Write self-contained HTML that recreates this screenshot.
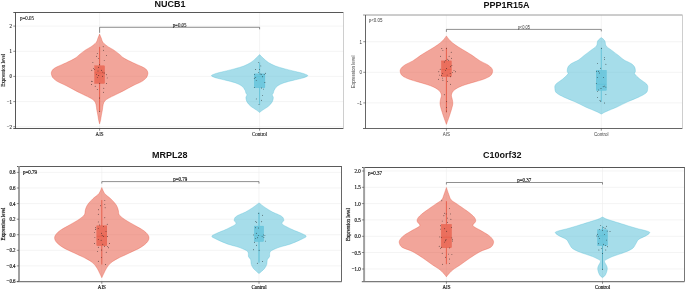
<!DOCTYPE html>
<html><head><meta charset="utf-8"><title>Violin plots</title>
<style>html,body{margin:0;padding:0;background:#fff;}svg{display:block;}</style>
</head><body>
<svg width="685" height="290" viewBox="0 0 685 290">
<rect width="685" height="290" fill="#fff"/>
<defs><filter id="idf" x="0" y="0" width="685" height="290" filterUnits="userSpaceOnUse" color-interpolation-filters="sRGB"><feOffset dx="0" dy="0"/></filter></defs>
<g filter="url(#idf)">
<line x1="15.50" y1="26.10" x2="343.50" y2="26.10" stroke="#ececec" stroke-width="0.6"/>
<line x1="15.50" y1="51.30" x2="343.50" y2="51.30" stroke="#ececec" stroke-width="0.6"/>
<line x1="15.50" y1="76.40" x2="343.50" y2="76.40" stroke="#ececec" stroke-width="0.6"/>
<line x1="15.50" y1="101.60" x2="343.50" y2="101.60" stroke="#ececec" stroke-width="0.6"/>
<line x1="15.50" y1="126.70" x2="343.50" y2="126.70" stroke="#ececec" stroke-width="0.6"/>
<line x1="99.60" y1="12.50" x2="99.60" y2="128.50" stroke="#ececec" stroke-width="0.6"/>
<line x1="259.60" y1="12.50" x2="259.60" y2="128.50" stroke="#ececec" stroke-width="0.6"/>
<path d="M99.60,34.10 C99.33,34.75 98.58,36.60 98.00,38.00 C97.42,39.40 97.30,41.02 96.10,42.50 C94.90,43.98 92.55,45.67 90.80,46.90 C89.05,48.13 87.35,48.73 85.60,49.90 C83.85,51.07 82.07,52.50 80.30,53.90 C78.53,55.30 77.33,56.83 75.00,58.30 C72.67,59.77 69.28,61.28 66.30,62.70 C63.32,64.12 59.25,65.75 57.10,66.80 C54.95,67.85 54.27,68.30 53.40,69.00 C52.53,69.70 52.25,70.33 51.90,71.00 C51.55,71.67 51.35,72.33 51.30,73.00 C51.25,73.67 51.42,74.33 51.60,75.00 C51.78,75.67 52.05,76.40 52.40,77.00 C52.75,77.60 52.83,77.83 53.70,78.60 C54.57,79.37 55.50,80.42 57.60,81.60 C59.70,82.78 63.40,84.23 66.30,85.70 C69.20,87.17 72.08,88.88 75.00,90.40 C77.92,91.92 81.17,93.48 83.80,94.80 C86.43,96.12 89.05,97.28 90.80,98.30 C92.55,99.32 93.43,99.88 94.30,100.90 C95.17,101.92 95.57,102.80 96.00,104.40 C96.43,106.00 96.60,108.73 96.90,110.50 C97.20,112.27 97.53,113.50 97.80,115.00 C98.07,116.50 98.20,118.02 98.50,119.50 C98.80,120.98 99.42,123.17 99.60,123.90 C99.78,123.17 100.40,120.98 100.70,119.50 C101.00,118.02 101.13,116.50 101.40,115.00 C101.67,113.50 102.00,112.27 102.30,110.50 C102.60,108.73 102.77,106.00 103.20,104.40 C103.63,102.80 104.03,101.92 104.90,100.90 C105.77,99.88 106.65,99.32 108.40,98.30 C110.15,97.28 112.77,96.12 115.40,94.80 C118.03,93.48 121.28,91.92 124.20,90.40 C127.12,88.88 130.00,87.17 132.90,85.70 C135.80,84.23 139.50,82.78 141.60,81.60 C143.70,80.42 144.63,79.37 145.50,78.60 C146.37,77.83 146.45,77.60 146.80,77.00 C147.15,76.40 147.42,75.67 147.60,75.00 C147.78,74.33 147.95,73.67 147.90,73.00 C147.85,72.33 147.65,71.67 147.30,71.00 C146.95,70.33 146.67,69.70 145.80,69.00 C144.93,68.30 144.25,67.85 142.10,66.80 C139.95,65.75 135.88,64.12 132.90,62.70 C129.92,61.28 126.53,59.77 124.20,58.30 C121.87,56.83 120.67,55.30 118.90,53.90 C117.13,52.50 115.35,51.07 113.60,49.90 C111.85,48.73 110.15,48.13 108.40,46.90 C106.65,45.67 104.30,43.98 103.10,42.50 C101.90,41.02 101.78,39.40 101.20,38.00 C100.62,36.60 99.87,34.75 99.60,34.10Z" fill="#E64B35" fill-opacity="0.5" stroke="#E64B35" stroke-width="0.55" stroke-opacity="0.6"/>
<path d="M259.60,54.60 C259.02,55.18 257.57,56.78 256.10,58.10 C254.63,59.42 252.85,61.18 250.80,62.50 C248.75,63.82 246.43,64.97 243.80,66.00 C241.17,67.03 237.92,67.88 235.00,68.70 C232.08,69.52 229.20,70.18 226.30,70.90 C223.40,71.62 219.77,72.40 217.60,73.00 C215.43,73.60 214.33,74.05 213.30,74.50 C212.27,74.95 211.40,75.30 211.40,75.70 C211.40,76.10 212.27,76.47 213.30,76.90 C214.33,77.33 215.43,77.72 217.60,78.30 C219.77,78.88 223.40,79.67 226.30,80.40 C229.20,81.13 232.38,81.73 235.00,82.70 C237.62,83.67 240.30,84.88 242.00,86.20 C243.70,87.52 244.55,89.45 245.20,90.60 C245.85,91.75 245.60,92.38 245.90,93.10 C246.20,93.82 247.00,94.17 247.00,94.90 C247.00,95.63 245.90,96.33 245.90,97.50 C245.90,98.67 246.18,100.43 247.00,101.90 C247.82,103.37 249.28,104.98 250.80,106.30 C252.32,107.62 254.63,108.78 256.10,109.80 C257.57,110.82 259.02,111.97 259.60,112.40 C260.18,111.97 261.63,110.82 263.10,109.80 C264.57,108.78 266.88,107.62 268.40,106.30 C269.92,104.98 271.38,103.37 272.20,101.90 C273.02,100.43 273.30,98.67 273.30,97.50 C273.30,96.33 272.20,95.63 272.20,94.90 C272.20,94.17 273.00,93.82 273.30,93.10 C273.60,92.38 273.35,91.75 274.00,90.60 C274.65,89.45 275.50,87.52 277.20,86.20 C278.90,84.88 281.58,83.67 284.20,82.70 C286.82,81.73 290.00,81.13 292.90,80.40 C295.80,79.67 299.43,78.88 301.60,78.30 C303.77,77.72 304.87,77.33 305.90,76.90 C306.93,76.47 307.80,76.10 307.80,75.70 C307.80,75.30 306.93,74.95 305.90,74.50 C304.87,74.05 303.77,73.60 301.60,73.00 C299.43,72.40 295.80,71.62 292.90,70.90 C290.00,70.18 287.12,69.52 284.20,68.70 C281.28,67.88 278.03,67.03 275.40,66.00 C272.77,64.97 270.45,63.82 268.40,62.50 C266.35,61.18 264.57,59.42 263.10,58.10 C261.63,56.78 260.18,55.18 259.60,54.60Z" fill="#4DBBD5" fill-opacity="0.5" stroke="#4DBBD5" stroke-width="0.55" stroke-opacity="0.6"/>
<line x1="99.60" y1="46.90" x2="99.60" y2="65.80" stroke="#E64B35" stroke-width="0.8" stroke-opacity="0.95"/><line x1="99.60" y1="83.40" x2="99.60" y2="111.40" stroke="#E64B35" stroke-width="0.8" stroke-opacity="0.95"/><rect x="94.70" y="65.80" width="9.80" height="17.60" fill="#E64B35" fill-opacity="0.6" stroke="#E64B35" stroke-width="0.4" stroke-opacity="0.7"/><line x1="94.70" y1="72.90" x2="104.50" y2="72.90" stroke="#E64B35" stroke-width="0.5" stroke-opacity="0.7"/>
<line x1="259.60" y1="62.50" x2="259.60" y2="73.90" stroke="#4DBBD5" stroke-width="0.7" stroke-opacity="0.95"/><line x1="259.60" y1="87.70" x2="259.60" y2="104.50" stroke="#4DBBD5" stroke-width="0.7" stroke-opacity="0.95"/><rect x="254.30" y="73.90" width="10.60" height="13.80" fill="#4DBBD5" fill-opacity="0.6" stroke="#4DBBD5" stroke-width="0.4" stroke-opacity="0.7"/><line x1="254.30" y1="76.50" x2="264.90" y2="76.50" stroke="#4DBBD5" stroke-width="0.5" stroke-opacity="0.7"/>
<circle cx="103.2" cy="46.8" r="0.43" fill="#151515"/>
<circle cx="103.5" cy="50.3" r="0.43" fill="#151515"/>
<circle cx="106.5" cy="55.4" r="0.43" fill="#151515"/>
<circle cx="97.3" cy="53.4" r="0.43" fill="#151515"/>
<circle cx="96.6" cy="56.2" r="0.43" fill="#151515"/>
<circle cx="98.7" cy="58.6" r="0.43" fill="#151515"/>
<circle cx="104.2" cy="60.6" r="0.43" fill="#151515"/>
<circle cx="92.9" cy="62.4" r="0.43" fill="#151515"/>
<circle cx="99.4" cy="64.8" r="0.43" fill="#151515"/>
<circle cx="93.4" cy="68.6" r="0.43" fill="#151515"/>
<circle cx="91.8" cy="70.3" r="0.43" fill="#151515"/>
<circle cx="94.5" cy="69.6" r="0.43" fill="#151515"/>
<circle cx="98.7" cy="67.5" r="0.43" fill="#151515"/>
<circle cx="98.0" cy="71.0" r="0.43" fill="#151515"/>
<circle cx="101.4" cy="70.3" r="0.43" fill="#151515"/>
<circle cx="102.8" cy="72.1" r="0.43" fill="#151515"/>
<circle cx="104.2" cy="73.0" r="0.43" fill="#151515"/>
<circle cx="106.3" cy="74.8" r="0.43" fill="#151515"/>
<circle cx="96.6" cy="74.4" r="0.43" fill="#151515"/>
<circle cx="98.7" cy="75.5" r="0.43" fill="#151515"/>
<circle cx="102.5" cy="76.2" r="0.43" fill="#151515"/>
<circle cx="97.3" cy="77.6" r="0.43" fill="#151515"/>
<circle cx="107.2" cy="77.9" r="0.43" fill="#151515"/>
<circle cx="91.8" cy="81.3" r="0.43" fill="#151515"/>
<circle cx="92.1" cy="81.4" r="0.43" fill="#151515"/>
<circle cx="91.4" cy="84.5" r="0.43" fill="#151515"/>
<circle cx="106.6" cy="83.5" r="0.43" fill="#151515"/>
<circle cx="99.7" cy="83.2" r="0.43" fill="#151515"/>
<circle cx="95.2" cy="86.3" r="0.43" fill="#151515"/>
<circle cx="97.3" cy="89.4" r="0.43" fill="#151515"/>
<circle cx="103.8" cy="88.3" r="0.43" fill="#151515"/>
<circle cx="103.5" cy="92.2" r="0.43" fill="#151515"/>
<circle cx="99.4" cy="98.0" r="0.43" fill="#151515"/>
<circle cx="99.7" cy="111.5" r="0.43" fill="#151515"/>
<circle cx="258.7" cy="62.6" r="0.43" fill="#151515"/>
<circle cx="260.8" cy="65.9" r="0.43" fill="#151515"/>
<circle cx="259.4" cy="69.4" r="0.43" fill="#151515"/>
<circle cx="255.7" cy="69.5" r="0.43" fill="#151515"/>
<circle cx="258.7" cy="72.6" r="0.43" fill="#151515"/>
<circle cx="260.1" cy="73.9" r="0.43" fill="#151515"/>
<circle cx="261.2" cy="74.3" r="0.43" fill="#151515"/>
<circle cx="265.6" cy="73.2" r="0.43" fill="#151515"/>
<circle cx="264.2" cy="74.6" r="0.43" fill="#151515"/>
<circle cx="254.6" cy="74.6" r="0.43" fill="#151515"/>
<circle cx="262.6" cy="76.7" r="0.43" fill="#151515"/>
<circle cx="255.7" cy="77.4" r="0.43" fill="#151515"/>
<circle cx="254.3" cy="78.3" r="0.43" fill="#151515"/>
<circle cx="256.2" cy="80.6" r="0.43" fill="#151515"/>
<circle cx="264.9" cy="82.5" r="0.43" fill="#151515"/>
<circle cx="254.3" cy="87.4" r="0.43" fill="#151515"/>
<circle cx="261.4" cy="88.0" r="0.43" fill="#151515"/>
<circle cx="263.4" cy="89.1" r="0.43" fill="#151515"/>
<circle cx="262.6" cy="95.4" r="0.43" fill="#151515"/>
<circle cx="256.3" cy="98.9" r="0.43" fill="#151515"/>
<circle cx="261.4" cy="100.3" r="0.43" fill="#151515"/>
<circle cx="259.0" cy="104.4" r="0.43" fill="#151515"/>
<line x1="13.30" y1="12.50" x2="343.50" y2="12.50" stroke="#444" stroke-width="0.9"/>
<line x1="15.50" y1="12.50" x2="15.50" y2="128.50" stroke="#444" stroke-width="0.9"/>
<line x1="13.30" y1="128.50" x2="343.50" y2="128.50" stroke="#444" stroke-width="0.9"/>
<line x1="343.50" y1="12.50" x2="343.50" y2="128.50" stroke="#c8c8c8" stroke-width="0.9"/>
<line x1="13.30" y1="26.10" x2="15.50" y2="26.10" stroke="#444" stroke-width="0.6"/>
<text transform="translate(12.10,28.15) scale(0.8,1)" text-anchor="end" font-family="Liberation Serif" font-size="6.2" fill="#111" stroke="#111" stroke-width="0.12">2</text>
<line x1="13.30" y1="51.30" x2="15.50" y2="51.30" stroke="#444" stroke-width="0.6"/>
<text transform="translate(12.10,53.35) scale(0.8,1)" text-anchor="end" font-family="Liberation Serif" font-size="6.2" fill="#111" stroke="#111" stroke-width="0.12">1</text>
<line x1="13.30" y1="76.40" x2="15.50" y2="76.40" stroke="#444" stroke-width="0.6"/>
<text transform="translate(12.10,78.45) scale(0.8,1)" text-anchor="end" font-family="Liberation Serif" font-size="6.2" fill="#111" stroke="#111" stroke-width="0.12">0</text>
<line x1="13.30" y1="101.60" x2="15.50" y2="101.60" stroke="#444" stroke-width="0.6"/>
<text transform="translate(12.10,103.65) scale(0.8,1)" text-anchor="end" font-family="Liberation Serif" font-size="6.2" fill="#111" stroke="#111" stroke-width="0.12">−1</text>
<line x1="13.30" y1="126.70" x2="15.50" y2="126.70" stroke="#444" stroke-width="0.6"/>
<text transform="translate(12.10,128.75) scale(0.8,1)" text-anchor="end" font-family="Liberation Serif" font-size="6.2" fill="#111" stroke="#111" stroke-width="0.12">−2</text>
<line x1="99.60" y1="128.50" x2="99.60" y2="130.70" stroke="#444" stroke-width="0.6"/>
<text transform="translate(99.60,136.10) scale(0.8,1)" text-anchor="middle" font-family="Liberation Serif" font-size="6.2" fill="#111" stroke="#111" stroke-width="0.12">AIS</text>
<line x1="259.60" y1="128.50" x2="259.60" y2="130.70" stroke="#444" stroke-width="0.6"/>
<text transform="translate(259.60,136.10) scale(0.8,1)" text-anchor="middle" font-family="Liberation Serif" font-size="6.2" fill="#111" stroke="#111" stroke-width="0.12">Control</text>
<text transform="translate(5.00,70.30) rotate(-90) scale(0.8,1)" text-anchor="middle" font-family="Liberation Serif" font-size="6.2" fill="#111" stroke="#111" stroke-width="0.12">Expression level</text>
<text transform="translate(20.00,20.10) scale(0.8,1)" text-anchor="start" font-family="Liberation Serif" font-size="6.2" fill="#111" stroke="#111" stroke-width="0.12">p=0.05</text>
<text transform="translate(179.60,26.60) scale(0.8,1)" text-anchor="middle" font-family="Liberation Serif" font-size="6.2" fill="#111" stroke="#111" stroke-width="0.12">p=0.05</text>
<path d="M99.60,32.80 V27.30 H259.60 V29.30" fill="none" stroke="#333" stroke-width="0.55"/>
<text x="170.00" y="7.40" text-anchor="middle" font-family="Liberation Sans" font-weight="bold" font-size="9" fill="#111">NUCB1</text>
<line x1="365.50" y1="41.70" x2="682.50" y2="41.70" stroke="#ececec" stroke-width="0.6"/>
<line x1="365.50" y1="72.30" x2="682.50" y2="72.30" stroke="#ececec" stroke-width="0.6"/>
<line x1="365.50" y1="102.90" x2="682.50" y2="102.90" stroke="#ececec" stroke-width="0.6"/>
<line x1="446.40" y1="15.00" x2="446.40" y2="128.50" stroke="#ececec" stroke-width="0.6"/>
<line x1="601.30" y1="15.00" x2="601.30" y2="128.50" stroke="#ececec" stroke-width="0.6"/>
<path d="M446.40,35.90 C445.77,36.72 444.12,39.27 442.60,40.80 C441.08,42.33 439.35,43.65 437.30,45.10 C435.25,46.55 432.93,47.88 430.30,49.50 C427.67,51.12 424.42,52.90 421.50,54.80 C418.58,56.70 415.42,59.30 412.80,60.90 C410.18,62.50 407.70,63.23 405.80,64.40 C403.90,65.57 402.33,66.73 401.40,67.90 C400.47,69.07 400.03,70.08 400.20,71.40 C400.37,72.72 400.87,74.48 402.40,75.80 C403.93,77.12 406.78,78.28 409.40,79.30 C412.02,80.32 415.18,81.03 418.10,81.90 C421.02,82.77 424.27,83.62 426.90,84.50 C429.53,85.38 431.85,86.17 433.90,87.20 C435.95,88.23 437.95,89.40 439.20,90.70 C440.45,92.00 441.18,93.55 441.40,95.00 C441.62,96.45 440.73,97.93 440.50,99.40 C440.27,100.87 439.88,102.20 440.00,103.80 C440.12,105.40 440.63,106.97 441.20,109.00 C441.77,111.03 442.77,114.08 443.40,116.00 C444.03,117.92 444.50,119.10 445.00,120.50 C445.50,121.90 446.17,123.75 446.40,124.40 C446.63,123.75 447.30,121.90 447.80,120.50 C448.30,119.10 448.77,117.92 449.40,116.00 C450.03,114.08 451.03,111.03 451.60,109.00 C452.17,106.97 452.68,105.40 452.80,103.80 C452.92,102.20 452.53,100.87 452.30,99.40 C452.07,97.93 451.18,96.45 451.40,95.00 C451.62,93.55 452.35,92.00 453.60,90.70 C454.85,89.40 456.85,88.23 458.90,87.20 C460.95,86.17 463.27,85.38 465.90,84.50 C468.53,83.62 471.78,82.77 474.70,81.90 C477.62,81.03 480.78,80.32 483.40,79.30 C486.02,78.28 488.87,77.12 490.40,75.80 C491.93,74.48 492.43,72.72 492.60,71.40 C492.77,70.08 492.33,69.07 491.40,67.90 C490.47,66.73 488.90,65.57 487.00,64.40 C485.10,63.23 482.62,62.50 480.00,60.90 C477.38,59.30 474.22,56.70 471.30,54.80 C468.38,52.90 465.13,51.12 462.50,49.50 C459.87,47.88 457.55,46.55 455.50,45.10 C453.45,43.65 451.72,42.33 450.20,40.80 C448.68,39.27 447.03,36.72 446.40,35.90Z" fill="#E64B35" fill-opacity="0.5" stroke="#E64B35" stroke-width="0.55" stroke-opacity="0.6"/>
<path d="M601.30,37.60 C600.72,38.13 598.62,39.40 597.80,40.80 C596.98,42.20 597.57,44.40 596.40,46.00 C595.23,47.60 592.90,48.78 590.80,50.40 C588.70,52.02 585.85,54.10 583.80,55.70 C581.75,57.30 580.55,58.70 578.50,60.00 C576.45,61.30 573.25,62.33 571.50,63.50 C569.75,64.67 568.72,65.68 568.00,67.00 C567.28,68.32 567.20,70.27 567.20,71.40 C567.20,72.53 568.73,72.53 568.00,73.80 C567.27,75.07 564.83,77.25 562.80,79.00 C560.77,80.75 557.12,82.68 555.80,84.30 C554.48,85.92 554.77,87.25 554.90,88.70 C555.03,90.15 555.00,91.55 556.60,93.00 C558.20,94.45 561.43,95.93 564.50,97.40 C567.57,98.87 571.48,100.20 575.00,101.80 C578.52,103.40 582.08,105.40 585.60,107.00 C589.12,108.60 593.48,110.22 596.10,111.40 C598.72,112.58 600.43,113.65 601.30,114.10 C602.17,113.65 603.88,112.58 606.50,111.40 C609.12,110.22 613.48,108.60 617.00,107.00 C620.52,105.40 624.08,103.40 627.60,101.80 C631.12,100.20 635.03,98.87 638.10,97.40 C641.17,95.93 644.40,94.45 646.00,93.00 C647.60,91.55 647.57,90.15 647.70,88.70 C647.83,87.25 648.12,85.92 646.80,84.30 C645.48,82.68 641.83,80.75 639.80,79.00 C637.77,77.25 635.33,75.07 634.60,73.80 C633.87,72.53 635.40,72.53 635.40,71.40 C635.40,70.27 635.32,68.32 634.60,67.00 C633.88,65.68 632.85,64.67 631.10,63.50 C629.35,62.33 626.15,61.30 624.10,60.00 C622.05,58.70 620.85,57.30 618.80,55.70 C616.75,54.10 613.90,52.02 611.80,50.40 C609.70,48.78 607.37,47.60 606.20,46.00 C605.03,44.40 605.62,42.20 604.80,40.80 C603.98,39.40 601.88,38.13 601.30,37.60Z" fill="#4DBBD5" fill-opacity="0.5" stroke="#4DBBD5" stroke-width="0.55" stroke-opacity="0.6"/>
<line x1="446.40" y1="47.80" x2="446.40" y2="60.90" stroke="#E64B35" stroke-width="0.8" stroke-opacity="0.95"/><line x1="446.40" y1="76.60" x2="446.40" y2="112.50" stroke="#E64B35" stroke-width="0.8" stroke-opacity="0.95"/><rect x="441.50" y="60.90" width="9.80" height="15.70" fill="#E64B35" fill-opacity="0.6" stroke="#E64B35" stroke-width="0.4" stroke-opacity="0.7"/><line x1="441.50" y1="69.60" x2="451.30" y2="69.60" stroke="#E64B35" stroke-width="0.5" stroke-opacity="0.7"/>
<line x1="601.30" y1="47.80" x2="601.30" y2="70.30" stroke="#4DBBD5" stroke-width="0.7" stroke-opacity="0.95"/><line x1="601.30" y1="90.40" x2="601.30" y2="101.80" stroke="#4DBBD5" stroke-width="0.7" stroke-opacity="0.95"/><rect x="596.20" y="70.30" width="10.20" height="20.10" fill="#4DBBD5" fill-opacity="0.6" stroke="#4DBBD5" stroke-width="0.4" stroke-opacity="0.7"/><line x1="596.20" y1="84.30" x2="606.40" y2="84.30" stroke="#4DBBD5" stroke-width="0.5" stroke-opacity="0.7"/>
<circle cx="446.4" cy="48.2" r="0.43" fill="#151515"/>
<circle cx="441.8" cy="48.5" r="0.43" fill="#151515"/>
<circle cx="442.9" cy="50.6" r="0.43" fill="#151515"/>
<circle cx="451.2" cy="52.3" r="0.43" fill="#151515"/>
<circle cx="440.4" cy="56.2" r="0.43" fill="#151515"/>
<circle cx="449.1" cy="56.2" r="0.43" fill="#151515"/>
<circle cx="451.5" cy="58.3" r="0.43" fill="#151515"/>
<circle cx="447.8" cy="59.2" r="0.43" fill="#151515"/>
<circle cx="445.3" cy="60.6" r="0.43" fill="#151515"/>
<circle cx="444.3" cy="62.0" r="0.43" fill="#151515"/>
<circle cx="448.4" cy="60.6" r="0.43" fill="#151515"/>
<circle cx="451.9" cy="65.4" r="0.43" fill="#151515"/>
<circle cx="450.5" cy="66.8" r="0.43" fill="#151515"/>
<circle cx="446.4" cy="68.5" r="0.43" fill="#151515"/>
<circle cx="440.2" cy="69.3" r="0.43" fill="#151515"/>
<circle cx="445.4" cy="70.6" r="0.43" fill="#151515"/>
<circle cx="454.0" cy="70.6" r="0.43" fill="#151515"/>
<circle cx="455.6" cy="71.7" r="0.43" fill="#151515"/>
<circle cx="438.8" cy="71.7" r="0.43" fill="#151515"/>
<circle cx="452.6" cy="72.6" r="0.43" fill="#151515"/>
<circle cx="442.7" cy="73.4" r="0.43" fill="#151515"/>
<circle cx="450.2" cy="73.4" r="0.43" fill="#151515"/>
<circle cx="439.5" cy="75.1" r="0.43" fill="#151515"/>
<circle cx="441.6" cy="75.5" r="0.43" fill="#151515"/>
<circle cx="447.1" cy="75.1" r="0.43" fill="#151515"/>
<circle cx="450.5" cy="76.8" r="0.43" fill="#151515"/>
<circle cx="442.5" cy="78.1" r="0.43" fill="#151515"/>
<circle cx="438.5" cy="79.2" r="0.43" fill="#151515"/>
<circle cx="442.9" cy="80.3" r="0.43" fill="#151515"/>
<circle cx="447.6" cy="81.4" r="0.43" fill="#151515"/>
<circle cx="450.5" cy="84.2" r="0.43" fill="#151515"/>
<circle cx="444.3" cy="94.8" r="0.43" fill="#151515"/>
<circle cx="446.7" cy="101.4" r="0.43" fill="#151515"/>
<circle cx="446.4" cy="107.4" r="0.43" fill="#151515"/>
<circle cx="446.4" cy="111.1" r="0.43" fill="#151515"/>
<circle cx="601.4" cy="48.2" r="0.43" fill="#151515"/>
<circle cx="604.5" cy="57.6" r="0.43" fill="#151515"/>
<circle cx="604.5" cy="59.2" r="0.43" fill="#151515"/>
<circle cx="597.6" cy="63.4" r="0.43" fill="#151515"/>
<circle cx="605.9" cy="64.3" r="0.43" fill="#151515"/>
<circle cx="600.7" cy="68.2" r="0.43" fill="#151515"/>
<circle cx="596.5" cy="71.4" r="0.43" fill="#151515"/>
<circle cx="598.6" cy="71.2" r="0.43" fill="#151515"/>
<circle cx="599.3" cy="73.0" r="0.43" fill="#151515"/>
<circle cx="597.3" cy="77.4" r="0.43" fill="#151515"/>
<circle cx="603.4" cy="77.4" r="0.43" fill="#151515"/>
<circle cx="596.3" cy="83.4" r="0.43" fill="#151515"/>
<circle cx="604.5" cy="86.1" r="0.43" fill="#151515"/>
<circle cx="605.9" cy="87.1" r="0.43" fill="#151515"/>
<circle cx="603.2" cy="86.7" r="0.43" fill="#151515"/>
<circle cx="601.0" cy="88.5" r="0.43" fill="#151515"/>
<circle cx="598.6" cy="89.9" r="0.43" fill="#151515"/>
<circle cx="597.6" cy="91.6" r="0.43" fill="#151515"/>
<circle cx="605.9" cy="94.4" r="0.43" fill="#151515"/>
<circle cx="597.5" cy="97.4" r="0.43" fill="#151515"/>
<circle cx="600.0" cy="100.5" r="0.43" fill="#151515"/>
<circle cx="600.7" cy="101.6" r="0.43" fill="#151515"/>
<circle cx="604.5" cy="103.0" r="0.43" fill="#151515"/>
<line x1="363.00" y1="15.00" x2="682.50" y2="15.00" stroke="#9a9a9a" stroke-width="1.0"/>
<line x1="365.50" y1="15.00" x2="365.50" y2="128.50" stroke="#555" stroke-width="0.9"/>
<line x1="363.00" y1="128.50" x2="682.50" y2="128.50" stroke="#555" stroke-width="0.9"/>
<line x1="682.50" y1="15.00" x2="682.50" y2="128.50" stroke="#c8c8c8" stroke-width="0.9"/>
<line x1="363.30" y1="41.70" x2="365.50" y2="41.70" stroke="#444" stroke-width="0.6"/>
<text transform="translate(362.10,43.70) scale(0.8,1)" text-anchor="end" font-family="Liberation Sans" font-size="5.6" fill="#3a3a3a" stroke="#3a3a3a" stroke-width="0">1</text>
<line x1="363.30" y1="72.30" x2="365.50" y2="72.30" stroke="#444" stroke-width="0.6"/>
<text transform="translate(362.10,74.30) scale(0.8,1)" text-anchor="end" font-family="Liberation Sans" font-size="5.6" fill="#3a3a3a" stroke="#3a3a3a" stroke-width="0">0</text>
<line x1="363.30" y1="102.90" x2="365.50" y2="102.90" stroke="#444" stroke-width="0.6"/>
<text transform="translate(362.10,104.90) scale(0.8,1)" text-anchor="end" font-family="Liberation Sans" font-size="5.6" fill="#3a3a3a" stroke="#3a3a3a" stroke-width="0">−1</text>
<line x1="446.40" y1="128.50" x2="446.40" y2="130.70" stroke="#444" stroke-width="0.6"/>
<text transform="translate(446.40,136.10) scale(0.8,1)" text-anchor="middle" font-family="Liberation Sans" font-size="5.6" fill="#3a3a3a" stroke="#3a3a3a" stroke-width="0">AIS</text>
<line x1="601.30" y1="128.50" x2="601.30" y2="130.70" stroke="#444" stroke-width="0.6"/>
<text transform="translate(601.30,136.10) scale(0.8,1)" text-anchor="middle" font-family="Liberation Sans" font-size="5.6" fill="#3a3a3a" stroke="#3a3a3a" stroke-width="0">Control</text>
<text transform="translate(355.20,71.80) rotate(-90) scale(0.8,1)" text-anchor="middle" font-family="Liberation Sans" font-size="5.6" fill="#3a3a3a" stroke="#3a3a3a" stroke-width="0">Expression level</text>
<text transform="translate(368.70,22.00) scale(0.8,1)" text-anchor="start" font-family="Liberation Sans" font-size="5.6" fill="#3a3a3a" stroke="#3a3a3a" stroke-width="0">p&lt;0.05</text>
<text transform="translate(523.80,28.80) scale(0.8,1)" text-anchor="middle" font-family="Liberation Sans" font-size="5.0" fill="#3a3a3a" stroke="#3a3a3a" stroke-width="0">p&lt;0.05</text>
<path d="M446.40,31.90 V29.40 H601.30 V31.40" fill="none" stroke="#333" stroke-width="0.55"/>
<text x="506.50" y="7.80" text-anchor="middle" font-family="Liberation Sans" font-weight="bold" font-size="9" fill="#111">PPP1R15A</text>
<line x1="19.00" y1="172.40" x2="341.50" y2="172.40" stroke="#ececec" stroke-width="0.6"/>
<line x1="19.00" y1="188.00" x2="341.50" y2="188.00" stroke="#ececec" stroke-width="0.6"/>
<line x1="19.00" y1="203.60" x2="341.50" y2="203.60" stroke="#ececec" stroke-width="0.6"/>
<line x1="19.00" y1="219.20" x2="341.50" y2="219.20" stroke="#ececec" stroke-width="0.6"/>
<line x1="19.00" y1="234.70" x2="341.50" y2="234.70" stroke="#ececec" stroke-width="0.6"/>
<line x1="19.00" y1="250.30" x2="341.50" y2="250.30" stroke="#ececec" stroke-width="0.6"/>
<line x1="19.00" y1="265.90" x2="341.50" y2="265.90" stroke="#ececec" stroke-width="0.6"/>
<line x1="19.00" y1="281.40" x2="341.50" y2="281.40" stroke="#ececec" stroke-width="0.6"/>
<line x1="101.80" y1="166.50" x2="101.80" y2="281.60" stroke="#ececec" stroke-width="0.6"/>
<line x1="259.00" y1="166.50" x2="259.00" y2="281.60" stroke="#ececec" stroke-width="0.6"/>
<path d="M101.80,187.50 C101.30,188.53 100.32,191.80 98.80,193.70 C97.28,195.60 94.60,197.02 92.70,198.90 C90.80,200.78 88.63,203.10 87.40,205.00 C86.17,206.90 85.73,208.83 85.30,210.30 C84.87,211.77 85.13,212.85 84.80,213.80 C84.47,214.75 84.47,214.93 83.30,216.00 C82.13,217.07 80.33,218.57 77.80,220.20 C75.27,221.83 71.17,224.00 68.10,225.80 C65.03,227.60 61.60,229.25 59.40,231.00 C57.20,232.75 55.48,234.55 54.90,236.30 C54.32,238.05 54.57,239.65 55.90,241.50 C57.23,243.35 59.83,245.48 62.90,247.40 C65.97,249.32 70.50,251.17 74.30,253.00 C78.10,254.83 82.63,256.77 85.70,258.40 C88.77,260.03 90.82,261.20 92.70,262.80 C94.58,264.40 95.83,266.25 97.00,268.00 C98.17,269.75 98.90,271.68 99.70,273.30 C100.50,274.92 101.45,276.97 101.80,277.70 C102.15,276.97 103.10,274.92 103.90,273.30 C104.70,271.68 105.43,269.75 106.60,268.00 C107.77,266.25 109.02,264.40 110.90,262.80 C112.78,261.20 114.83,260.03 117.90,258.40 C120.97,256.77 125.50,254.83 129.30,253.00 C133.10,251.17 137.63,249.32 140.70,247.40 C143.77,245.48 146.37,243.35 147.70,241.50 C149.03,239.65 149.28,238.05 148.70,236.30 C148.12,234.55 146.40,232.75 144.20,231.00 C142.00,229.25 138.57,227.60 135.50,225.80 C132.43,224.00 128.33,221.83 125.80,220.20 C123.27,218.57 121.47,217.07 120.30,216.00 C119.13,214.93 119.13,214.75 118.80,213.80 C118.47,212.85 118.73,211.77 118.30,210.30 C117.87,208.83 117.43,206.90 116.20,205.00 C114.97,203.10 112.80,200.78 110.90,198.90 C109.00,197.02 106.32,195.60 104.80,193.70 C103.28,191.80 102.30,188.53 101.80,187.50Z" fill="#E64B35" fill-opacity="0.5" stroke="#E64B35" stroke-width="0.55" stroke-opacity="0.6"/>
<path d="M259.00,202.90 C257.93,203.70 254.83,206.18 252.60,207.70 C250.37,209.22 247.80,210.83 245.60,212.00 C243.40,213.17 241.08,213.87 239.40,214.70 C237.72,215.53 236.37,216.03 235.50,217.00 C234.63,217.97 234.13,219.33 234.20,220.50 C234.27,221.67 237.22,222.53 235.90,224.00 C234.58,225.47 229.65,227.68 226.30,229.30 C222.95,230.92 218.22,232.53 215.80,233.70 C213.38,234.87 211.80,235.43 211.80,236.30 C211.80,237.17 213.10,237.58 215.80,238.90 C218.50,240.22 224.30,242.85 228.00,244.20 C231.70,245.55 234.95,245.95 238.00,247.00 C241.05,248.05 244.58,249.47 246.30,250.50 C248.02,251.53 247.93,252.17 248.30,253.20 C248.67,254.23 248.10,255.62 248.50,256.70 C248.90,257.78 250.25,258.43 250.70,259.70 C251.15,260.97 250.75,262.85 251.20,264.30 C251.65,265.75 252.50,267.20 253.40,268.40 C254.30,269.60 255.67,270.63 256.60,271.50 C257.53,272.37 258.60,273.25 259.00,273.60 C259.40,273.25 260.47,272.37 261.40,271.50 C262.33,270.63 263.70,269.60 264.60,268.40 C265.50,267.20 266.35,265.75 266.80,264.30 C267.25,262.85 266.85,260.97 267.30,259.70 C267.75,258.43 269.10,257.78 269.50,256.70 C269.90,255.62 269.33,254.23 269.70,253.20 C270.07,252.17 269.98,251.53 271.70,250.50 C273.42,249.47 276.95,248.05 280.00,247.00 C283.05,245.95 286.30,245.55 290.00,244.20 C293.70,242.85 299.50,240.22 302.20,238.90 C304.90,237.58 306.20,237.17 306.20,236.30 C306.20,235.43 304.62,234.87 302.20,233.70 C299.78,232.53 295.05,230.92 291.70,229.30 C288.35,227.68 283.42,225.47 282.10,224.00 C280.78,222.53 283.73,221.67 283.80,220.50 C283.87,219.33 283.37,217.97 282.50,217.00 C281.63,216.03 280.28,215.53 278.60,214.70 C276.92,213.87 274.60,213.17 272.40,212.00 C270.20,210.83 267.63,209.22 265.40,207.70 C263.17,206.18 260.07,203.70 259.00,202.90Z" fill="#4DBBD5" fill-opacity="0.5" stroke="#4DBBD5" stroke-width="0.55" stroke-opacity="0.6"/>
<line x1="101.80" y1="200.10" x2="101.80" y2="225.80" stroke="#E64B35" stroke-width="0.8" stroke-opacity="0.95"/><line x1="101.80" y1="245.60" x2="101.80" y2="264.50" stroke="#E64B35" stroke-width="0.8" stroke-opacity="0.95"/><rect x="96.80" y="225.80" width="10.00" height="19.80" fill="#E64B35" fill-opacity="0.6" stroke="#E64B35" stroke-width="0.4" stroke-opacity="0.7"/><line x1="96.80" y1="236.30" x2="106.80" y2="236.30" stroke="#E64B35" stroke-width="0.5" stroke-opacity="0.7"/>
<line x1="259.00" y1="212.60" x2="259.00" y2="226.10" stroke="#4DBBD5" stroke-width="1.9" stroke-opacity="0.45"/><line x1="259.00" y1="241.50" x2="259.00" y2="262.80" stroke="#4DBBD5" stroke-width="1.9" stroke-opacity="0.45"/><rect x="254.40" y="226.10" width="9.20" height="15.40" fill="#4DBBD5" fill-opacity="0.6" stroke="#4DBBD5" stroke-width="0.4" stroke-opacity="0.7"/><line x1="254.40" y1="235.40" x2="263.60" y2="235.40" stroke="#4DBBD5" stroke-width="0.5" stroke-opacity="0.7"/>
<circle cx="104.8" cy="200.4" r="0.43" fill="#151515"/>
<circle cx="104.8" cy="204.6" r="0.43" fill="#151515"/>
<circle cx="100.4" cy="205.7" r="0.43" fill="#151515"/>
<circle cx="105.1" cy="207.7" r="0.43" fill="#151515"/>
<circle cx="98.6" cy="209.8" r="0.43" fill="#151515"/>
<circle cx="98.3" cy="214.3" r="0.43" fill="#151515"/>
<circle cx="104.8" cy="217.7" r="0.43" fill="#151515"/>
<circle cx="98.3" cy="221.9" r="0.43" fill="#151515"/>
<circle cx="107.2" cy="224.3" r="0.43" fill="#151515"/>
<circle cx="99.7" cy="225.0" r="0.43" fill="#151515"/>
<circle cx="103.4" cy="226.6" r="0.43" fill="#151515"/>
<circle cx="95.4" cy="227.7" r="0.43" fill="#151515"/>
<circle cx="98.2" cy="228.4" r="0.43" fill="#151515"/>
<circle cx="95.4" cy="229.5" r="0.43" fill="#151515"/>
<circle cx="106.0" cy="231.4" r="0.43" fill="#151515"/>
<circle cx="94.7" cy="232.6" r="0.43" fill="#151515"/>
<circle cx="101.6" cy="233.2" r="0.43" fill="#151515"/>
<circle cx="102.1" cy="235.5" r="0.43" fill="#151515"/>
<circle cx="103.4" cy="236.2" r="0.43" fill="#151515"/>
<circle cx="107.6" cy="236.5" r="0.43" fill="#151515"/>
<circle cx="94.9" cy="237.6" r="0.43" fill="#151515"/>
<circle cx="98.3" cy="239.4" r="0.43" fill="#151515"/>
<circle cx="101.1" cy="240.3" r="0.43" fill="#151515"/>
<circle cx="94.5" cy="243.5" r="0.43" fill="#151515"/>
<circle cx="102.8" cy="244.2" r="0.43" fill="#151515"/>
<circle cx="109.4" cy="243.5" r="0.43" fill="#151515"/>
<circle cx="98.3" cy="247.2" r="0.43" fill="#151515"/>
<circle cx="104.6" cy="246.3" r="0.43" fill="#151515"/>
<circle cx="107.6" cy="246.6" r="0.43" fill="#151515"/>
<circle cx="108.6" cy="247.7" r="0.43" fill="#151515"/>
<circle cx="101.7" cy="250.0" r="0.43" fill="#151515"/>
<circle cx="97.5" cy="251.4" r="0.43" fill="#151515"/>
<circle cx="106.2" cy="252.3" r="0.43" fill="#151515"/>
<circle cx="101.4" cy="257.6" r="0.43" fill="#151515"/>
<circle cx="98.3" cy="261.3" r="0.43" fill="#151515"/>
<circle cx="105.5" cy="264.5" r="0.43" fill="#151515"/>
<circle cx="258.7" cy="213.2" r="0.43" fill="#151515"/>
<circle cx="262.5" cy="215.2" r="0.43" fill="#151515"/>
<circle cx="255.7" cy="221.4" r="0.43" fill="#151515"/>
<circle cx="256.6" cy="222.2" r="0.43" fill="#151515"/>
<circle cx="261.7" cy="221.8" r="0.43" fill="#151515"/>
<circle cx="255.5" cy="227.7" r="0.43" fill="#151515"/>
<circle cx="258.7" cy="228.0" r="0.43" fill="#151515"/>
<circle cx="256.3" cy="233.2" r="0.43" fill="#151515"/>
<circle cx="253.4" cy="234.9" r="0.43" fill="#151515"/>
<circle cx="258.4" cy="235.6" r="0.43" fill="#151515"/>
<circle cx="263.5" cy="234.9" r="0.43" fill="#151515"/>
<circle cx="264.9" cy="235.6" r="0.43" fill="#151515"/>
<circle cx="262.1" cy="236.6" r="0.43" fill="#151515"/>
<circle cx="263.9" cy="237.4" r="0.43" fill="#151515"/>
<circle cx="257.7" cy="237.7" r="0.43" fill="#151515"/>
<circle cx="255.7" cy="238.6" r="0.43" fill="#151515"/>
<circle cx="265.6" cy="241.1" r="0.43" fill="#151515"/>
<circle cx="254.6" cy="242.2" r="0.43" fill="#151515"/>
<circle cx="256.6" cy="245.3" r="0.43" fill="#151515"/>
<circle cx="253.6" cy="249.8" r="0.43" fill="#151515"/>
<circle cx="259.1" cy="250.2" r="0.43" fill="#151515"/>
<circle cx="262.6" cy="261.5" r="0.43" fill="#151515"/>
<circle cx="257.3" cy="263.3" r="0.43" fill="#151515"/>
<line x1="17.00" y1="166.50" x2="342.00" y2="166.50" stroke="#5a5a5a" stroke-width="1.0"/>
<line x1="19.00" y1="166.30" x2="19.00" y2="281.60" stroke="#a0a0a0" stroke-width="2.0"/>
<line x1="16.70" y1="281.60" x2="341.70" y2="281.60" stroke="#7a7a7a" stroke-width="1.4"/>
<line x1="341.50" y1="166.50" x2="341.50" y2="281.60" stroke="#666" stroke-width="1.0"/>
<line x1="16.80" y1="172.40" x2="19.00" y2="172.40" stroke="#444" stroke-width="0.6"/>
<text transform="translate(15.60,174.45) scale(0.8,1)" text-anchor="end" font-family="Liberation Serif" font-size="6.2" fill="#111" stroke="#111" stroke-width="0.2">0.8</text>
<line x1="16.80" y1="188.00" x2="19.00" y2="188.00" stroke="#444" stroke-width="0.6"/>
<text transform="translate(15.60,190.05) scale(0.8,1)" text-anchor="end" font-family="Liberation Serif" font-size="6.2" fill="#111" stroke="#111" stroke-width="0.2">0.6</text>
<line x1="16.80" y1="203.60" x2="19.00" y2="203.60" stroke="#444" stroke-width="0.6"/>
<text transform="translate(15.60,205.65) scale(0.8,1)" text-anchor="end" font-family="Liberation Serif" font-size="6.2" fill="#111" stroke="#111" stroke-width="0.2">0.4</text>
<line x1="16.80" y1="219.20" x2="19.00" y2="219.20" stroke="#444" stroke-width="0.6"/>
<text transform="translate(15.60,221.25) scale(0.8,1)" text-anchor="end" font-family="Liberation Serif" font-size="6.2" fill="#111" stroke="#111" stroke-width="0.2">0.2</text>
<line x1="16.80" y1="234.70" x2="19.00" y2="234.70" stroke="#444" stroke-width="0.6"/>
<text transform="translate(15.60,236.75) scale(0.8,1)" text-anchor="end" font-family="Liberation Serif" font-size="6.2" fill="#111" stroke="#111" stroke-width="0.2">0.0</text>
<line x1="16.80" y1="250.30" x2="19.00" y2="250.30" stroke="#444" stroke-width="0.6"/>
<text transform="translate(15.60,252.35) scale(0.8,1)" text-anchor="end" font-family="Liberation Serif" font-size="6.2" fill="#111" stroke="#111" stroke-width="0.2">−0.2</text>
<line x1="16.80" y1="265.90" x2="19.00" y2="265.90" stroke="#444" stroke-width="0.6"/>
<text transform="translate(15.60,267.95) scale(0.8,1)" text-anchor="end" font-family="Liberation Serif" font-size="6.2" fill="#111" stroke="#111" stroke-width="0.2">−0.4</text>
<line x1="16.80" y1="281.40" x2="19.00" y2="281.40" stroke="#444" stroke-width="0.6"/>
<text transform="translate(15.60,283.45) scale(0.8,1)" text-anchor="end" font-family="Liberation Serif" font-size="6.2" fill="#111" stroke="#111" stroke-width="0.2">−0.6</text>
<line x1="101.80" y1="281.60" x2="101.80" y2="283.80" stroke="#444" stroke-width="0.6"/>
<text transform="translate(101.80,289.00) scale(0.8,1)" text-anchor="middle" font-family="Liberation Serif" font-size="6.2" fill="#111" stroke="#111" stroke-width="0.2">AIS</text>
<line x1="259.00" y1="281.60" x2="259.00" y2="283.80" stroke="#444" stroke-width="0.6"/>
<text transform="translate(259.00,289.00) scale(0.8,1)" text-anchor="middle" font-family="Liberation Serif" font-size="6.2" fill="#111" stroke="#111" stroke-width="0.2">Control</text>
<text transform="translate(5.00,224.00) rotate(-90) scale(0.8,1)" text-anchor="middle" font-family="Liberation Serif" font-size="6.2" fill="#111" stroke="#111" stroke-width="0.2">Expression level</text>
<text transform="translate(23.00,174.30) scale(0.8,1)" text-anchor="start" font-family="Liberation Serif" font-size="6.2" fill="#111" stroke="#111" stroke-width="0.2">p=0.79</text>
<text transform="translate(180.30,181.00) scale(0.8,1)" text-anchor="middle" font-family="Liberation Serif" font-size="6.2" fill="#111" stroke="#111" stroke-width="0.2">p=0.79</text>
<path d="M101.80,183.60 V181.60 H259.00 V183.60" fill="none" stroke="#333" stroke-width="0.55"/>
<text x="169.80" y="157.80" text-anchor="middle" font-family="Liberation Sans" font-weight="bold" font-size="9" fill="#111">MRPL28</text>
<line x1="364.10" y1="171.00" x2="684.50" y2="171.00" stroke="#ececec" stroke-width="0.6"/>
<line x1="364.10" y1="187.30" x2="684.50" y2="187.30" stroke="#ececec" stroke-width="0.6"/>
<line x1="364.10" y1="203.60" x2="684.50" y2="203.60" stroke="#ececec" stroke-width="0.6"/>
<line x1="364.10" y1="219.90" x2="684.50" y2="219.90" stroke="#ececec" stroke-width="0.6"/>
<line x1="364.10" y1="236.30" x2="684.50" y2="236.30" stroke="#ececec" stroke-width="0.6"/>
<line x1="364.10" y1="252.50" x2="684.50" y2="252.50" stroke="#ececec" stroke-width="0.6"/>
<line x1="364.10" y1="269.00" x2="684.50" y2="269.00" stroke="#ececec" stroke-width="0.6"/>
<line x1="446.40" y1="167.50" x2="446.40" y2="281.60" stroke="#ececec" stroke-width="0.6"/>
<line x1="602.50" y1="167.50" x2="602.50" y2="281.60" stroke="#ececec" stroke-width="0.6"/>
<path d="M446.40,187.50 C446.00,188.67 444.78,192.45 444.00,194.50 C443.22,196.55 443.12,198.18 441.70,199.80 C440.28,201.42 437.98,202.45 435.50,204.20 C433.02,205.95 429.07,208.67 426.80,210.30 C424.53,211.93 423.37,212.73 421.90,214.00 C420.43,215.27 418.78,216.67 418.00,217.90 C417.22,219.13 416.90,220.08 417.20,221.40 C417.50,222.72 420.53,224.35 419.80,225.80 C419.07,227.25 415.43,228.50 412.80,230.10 C410.17,231.70 406.15,233.78 404.00,235.40 C401.85,237.02 400.67,238.48 399.90,239.80 C399.13,241.12 399.00,242.03 399.40,243.30 C399.80,244.57 400.07,246.00 402.30,247.40 C404.53,248.80 409.30,249.88 412.80,251.70 C416.30,253.52 420.10,256.17 423.30,258.30 C426.50,260.43 429.23,262.58 432.00,264.50 C434.77,266.42 437.85,268.18 439.90,269.80 C441.95,271.42 443.22,273.03 444.30,274.20 C445.38,275.37 446.05,276.37 446.40,276.80 C446.75,276.37 447.42,275.37 448.50,274.20 C449.58,273.03 450.85,271.42 452.90,269.80 C454.95,268.18 458.03,266.42 460.80,264.50 C463.57,262.58 466.30,260.43 469.50,258.30 C472.70,256.17 476.50,253.52 480.00,251.70 C483.50,249.88 488.27,248.80 490.50,247.40 C492.73,246.00 493.00,244.57 493.40,243.30 C493.80,242.03 493.67,241.12 492.90,239.80 C492.13,238.48 490.95,237.02 488.80,235.40 C486.65,233.78 482.63,231.70 480.00,230.10 C477.37,228.50 473.73,227.25 473.00,225.80 C472.27,224.35 475.30,222.72 475.60,221.40 C475.90,220.08 475.58,219.13 474.80,217.90 C474.02,216.67 472.37,215.27 470.90,214.00 C469.43,212.73 468.27,211.93 466.00,210.30 C463.73,208.67 459.78,205.95 457.30,204.20 C454.82,202.45 452.52,201.42 451.10,199.80 C449.68,198.18 449.58,196.55 448.80,194.50 C448.02,192.45 446.80,188.67 446.40,187.50Z" fill="#E64B35" fill-opacity="0.5" stroke="#E64B35" stroke-width="0.55" stroke-opacity="0.6"/>
<path d="M602.50,217.00 C601.72,217.38 600.92,218.18 597.80,219.30 C594.68,220.42 588.47,222.25 583.80,223.70 C579.13,225.15 574.18,226.75 569.80,228.00 C565.42,229.25 559.90,230.38 557.50,231.20 C555.10,232.02 555.10,232.12 555.40,232.90 C555.70,233.68 557.48,234.82 559.30,235.90 C561.12,236.98 564.70,238.17 566.30,239.40 C567.90,240.63 567.88,241.80 568.90,243.30 C569.92,244.80 570.50,246.90 572.40,248.40 C574.30,249.90 576.93,250.93 580.30,252.30 C583.67,253.67 589.38,255.30 592.60,256.60 C595.82,257.90 598.30,259.22 599.60,260.10 C600.90,260.98 600.63,260.87 600.40,261.90 C600.17,262.93 598.63,264.98 598.20,266.30 C597.77,267.62 597.57,268.35 597.80,269.80 C598.03,271.25 598.82,273.68 599.60,275.00 C600.38,276.32 602.02,277.25 602.50,277.70 C602.98,277.25 604.62,276.32 605.40,275.00 C606.18,273.68 606.97,271.25 607.20,269.80 C607.43,268.35 607.23,267.62 606.80,266.30 C606.37,264.98 604.83,262.93 604.60,261.90 C604.37,260.87 604.10,260.98 605.40,260.10 C606.70,259.22 609.18,257.90 612.40,256.60 C615.62,255.30 621.33,253.67 624.70,252.30 C628.07,250.93 630.70,249.90 632.60,248.40 C634.50,246.90 635.08,244.80 636.10,243.30 C637.12,241.80 637.10,240.63 638.70,239.40 C640.30,238.17 643.88,236.98 645.70,235.90 C647.52,234.82 649.30,233.68 649.60,232.90 C649.90,232.12 649.90,232.02 647.50,231.20 C645.10,230.38 639.58,229.25 635.20,228.00 C630.82,226.75 625.87,225.15 621.20,223.70 C616.53,222.25 610.32,220.42 607.20,219.30 C604.08,218.18 603.28,217.38 602.50,217.00Z" fill="#4DBBD5" fill-opacity="0.5" stroke="#4DBBD5" stroke-width="0.55" stroke-opacity="0.6"/>
<line x1="446.40" y1="201.20" x2="446.40" y2="224.40" stroke="#E64B35" stroke-width="0.8" stroke-opacity="0.95"/><line x1="446.40" y1="247.70" x2="446.40" y2="264.20" stroke="#E64B35" stroke-width="0.8" stroke-opacity="0.95"/><rect x="441.35" y="224.40" width="10.10" height="23.30" fill="#E64B35" fill-opacity="0.6" stroke="#E64B35" stroke-width="0.4" stroke-opacity="0.7"/><line x1="441.35" y1="237.20" x2="451.45" y2="237.20" stroke="#E64B35" stroke-width="0.5" stroke-opacity="0.7"/>
<line x1="602.50" y1="226.30" x2="602.50" y2="229.80" stroke="#2f9db8" stroke-width="0.6" stroke-opacity="1.0"/><line x1="602.50" y1="245.60" x2="602.50" y2="269.40" stroke="#2f9db8" stroke-width="0.6" stroke-opacity="1.0"/><rect x="597.55" y="229.80" width="9.90" height="15.80" fill="#4DBBD5" fill-opacity="0.6" stroke="#4DBBD5" stroke-width="0.4" stroke-opacity="0.7"/><line x1="597.55" y1="235.90" x2="607.45" y2="235.90" stroke="#4DBBD5" stroke-width="0.5" stroke-opacity="0.7"/>
<circle cx="441.8" cy="200.8" r="0.43" fill="#151515"/>
<circle cx="449.6" cy="208.4" r="0.43" fill="#151515"/>
<circle cx="444.7" cy="213.2" r="0.43" fill="#151515"/>
<circle cx="446.1" cy="213.9" r="0.43" fill="#151515"/>
<circle cx="450.5" cy="213.9" r="0.43" fill="#151515"/>
<circle cx="443.9" cy="215.7" r="0.43" fill="#151515"/>
<circle cx="447.5" cy="218.1" r="0.43" fill="#151515"/>
<circle cx="450.9" cy="219.2" r="0.43" fill="#151515"/>
<circle cx="442.2" cy="221.1" r="0.43" fill="#151515"/>
<circle cx="447.5" cy="222.2" r="0.43" fill="#151515"/>
<circle cx="440.4" cy="225.7" r="0.43" fill="#151515"/>
<circle cx="451.5" cy="227.4" r="0.43" fill="#151515"/>
<circle cx="440.4" cy="229.1" r="0.43" fill="#151515"/>
<circle cx="444.7" cy="228.8" r="0.43" fill="#151515"/>
<circle cx="446.7" cy="231.3" r="0.43" fill="#151515"/>
<circle cx="439.8" cy="236.9" r="0.43" fill="#151515"/>
<circle cx="441.6" cy="237.6" r="0.43" fill="#151515"/>
<circle cx="451.9" cy="237.9" r="0.43" fill="#151515"/>
<circle cx="452.6" cy="239.4" r="0.43" fill="#151515"/>
<circle cx="446.0" cy="239.7" r="0.43" fill="#151515"/>
<circle cx="445.4" cy="240.8" r="0.43" fill="#151515"/>
<circle cx="444.7" cy="242.1" r="0.43" fill="#151515"/>
<circle cx="452.6" cy="241.0" r="0.43" fill="#151515"/>
<circle cx="439.2" cy="246.3" r="0.43" fill="#151515"/>
<circle cx="441.3" cy="247.2" r="0.43" fill="#151515"/>
<circle cx="440.4" cy="248.6" r="0.43" fill="#151515"/>
<circle cx="449.6" cy="247.9" r="0.43" fill="#151515"/>
<circle cx="442.2" cy="253.2" r="0.43" fill="#151515"/>
<circle cx="448.4" cy="254.1" r="0.43" fill="#151515"/>
<circle cx="451.9" cy="254.6" r="0.43" fill="#151515"/>
<circle cx="445.4" cy="257.3" r="0.43" fill="#151515"/>
<circle cx="449.6" cy="259.0" r="0.43" fill="#151515"/>
<circle cx="442.5" cy="264.2" r="0.43" fill="#151515"/>
<circle cx="449.6" cy="263.4" r="0.43" fill="#151515"/>
<circle cx="600.7" cy="225.6" r="0.43" fill="#151515"/>
<circle cx="606.5" cy="226.3" r="0.43" fill="#151515"/>
<circle cx="603.8" cy="227.4" r="0.43" fill="#151515"/>
<circle cx="605.1" cy="228.3" r="0.43" fill="#151515"/>
<circle cx="599.3" cy="229.4" r="0.43" fill="#151515"/>
<circle cx="602.4" cy="230.4" r="0.43" fill="#151515"/>
<circle cx="607.2" cy="231.1" r="0.43" fill="#151515"/>
<circle cx="610.0" cy="231.5" r="0.43" fill="#151515"/>
<circle cx="597.6" cy="234.3" r="0.43" fill="#151515"/>
<circle cx="604.4" cy="234.6" r="0.43" fill="#151515"/>
<circle cx="596.6" cy="235.9" r="0.43" fill="#151515"/>
<circle cx="598.2" cy="236.6" r="0.43" fill="#151515"/>
<circle cx="599.6" cy="238.4" r="0.43" fill="#151515"/>
<circle cx="606.5" cy="240.1" r="0.43" fill="#151515"/>
<circle cx="598.5" cy="243.8" r="0.43" fill="#151515"/>
<circle cx="603.5" cy="244.2" r="0.43" fill="#151515"/>
<circle cx="605.5" cy="245.6" r="0.43" fill="#151515"/>
<circle cx="607.5" cy="246.7" r="0.43" fill="#151515"/>
<circle cx="601.7" cy="248.6" r="0.43" fill="#151515"/>
<circle cx="598.9" cy="250.0" r="0.43" fill="#151515"/>
<circle cx="605.8" cy="250.0" r="0.43" fill="#151515"/>
<circle cx="602.4" cy="253.5" r="0.43" fill="#151515"/>
<circle cx="602.4" cy="269.2" r="0.43" fill="#151515"/>
<line x1="362.00" y1="167.50" x2="685.00" y2="167.50" stroke="#555" stroke-width="1.0"/>
<line x1="364.10" y1="167.30" x2="364.10" y2="281.60" stroke="#a0a0a0" stroke-width="2.0"/>
<line x1="361.80" y1="281.60" x2="684.50" y2="281.60" stroke="#7a7a7a" stroke-width="1.4"/>
<line x1="684.50" y1="167.50" x2="684.50" y2="281.60" stroke="#777" stroke-width="1.0"/>
<line x1="361.90" y1="171.00" x2="364.10" y2="171.00" stroke="#444" stroke-width="0.6"/>
<text transform="translate(360.70,173.05) scale(0.8,1)" text-anchor="end" font-family="Liberation Serif" font-size="6.2" fill="#111" stroke="#111" stroke-width="0.2">2.0</text>
<line x1="361.90" y1="187.30" x2="364.10" y2="187.30" stroke="#444" stroke-width="0.6"/>
<text transform="translate(360.70,189.35) scale(0.8,1)" text-anchor="end" font-family="Liberation Serif" font-size="6.2" fill="#111" stroke="#111" stroke-width="0.2">1.5</text>
<line x1="361.90" y1="203.60" x2="364.10" y2="203.60" stroke="#444" stroke-width="0.6"/>
<text transform="translate(360.70,205.65) scale(0.8,1)" text-anchor="end" font-family="Liberation Serif" font-size="6.2" fill="#111" stroke="#111" stroke-width="0.2">1.0</text>
<line x1="361.90" y1="219.90" x2="364.10" y2="219.90" stroke="#444" stroke-width="0.6"/>
<text transform="translate(360.70,221.95) scale(0.8,1)" text-anchor="end" font-family="Liberation Serif" font-size="6.2" fill="#111" stroke="#111" stroke-width="0.2">0.5</text>
<line x1="361.90" y1="236.30" x2="364.10" y2="236.30" stroke="#444" stroke-width="0.6"/>
<text transform="translate(360.70,238.35) scale(0.8,1)" text-anchor="end" font-family="Liberation Serif" font-size="6.2" fill="#111" stroke="#111" stroke-width="0.2">0.0</text>
<line x1="361.90" y1="252.50" x2="364.10" y2="252.50" stroke="#444" stroke-width="0.6"/>
<text transform="translate(360.70,254.55) scale(0.8,1)" text-anchor="end" font-family="Liberation Serif" font-size="6.2" fill="#111" stroke="#111" stroke-width="0.2">−0.5</text>
<line x1="361.90" y1="269.00" x2="364.10" y2="269.00" stroke="#444" stroke-width="0.6"/>
<text transform="translate(360.70,271.05) scale(0.8,1)" text-anchor="end" font-family="Liberation Serif" font-size="6.2" fill="#111" stroke="#111" stroke-width="0.2">−1.0</text>
<line x1="446.40" y1="281.60" x2="446.40" y2="283.80" stroke="#444" stroke-width="0.6"/>
<text transform="translate(446.40,289.00) scale(0.8,1)" text-anchor="middle" font-family="Liberation Serif" font-size="6.2" fill="#111" stroke="#111" stroke-width="0.2">AIS</text>
<line x1="602.50" y1="281.60" x2="602.50" y2="283.80" stroke="#444" stroke-width="0.6"/>
<text transform="translate(602.50,289.00) scale(0.8,1)" text-anchor="middle" font-family="Liberation Serif" font-size="6.2" fill="#111" stroke="#111" stroke-width="0.2">Control</text>
<text transform="translate(350.40,224.50) rotate(-90) scale(0.8,1)" text-anchor="middle" font-family="Liberation Serif" font-size="6.2" fill="#111" stroke="#111" stroke-width="0.2">Expression level</text>
<text transform="translate(368.00,174.90) scale(0.8,1)" text-anchor="start" font-family="Liberation Serif" font-size="6.2" fill="#111" stroke="#111" stroke-width="0.2">p=0.37</text>
<text transform="translate(524.30,182.00) scale(0.8,1)" text-anchor="middle" font-family="Liberation Serif" font-size="6.2" fill="#111" stroke="#111" stroke-width="0.2">p=0.37</text>
<path d="M446.40,184.50 V182.50 H602.50 V184.50" fill="none" stroke="#333" stroke-width="0.55"/>
<text x="502.20" y="157.80" text-anchor="middle" font-family="Liberation Sans" font-weight="bold" font-size="9" fill="#111">C10orf32</text>
</g>
</svg>
</body></html>
